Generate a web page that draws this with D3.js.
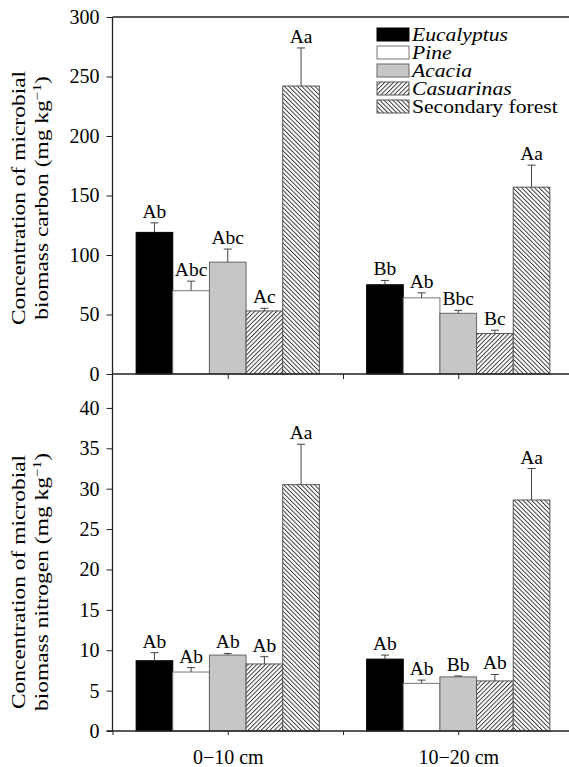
<!DOCTYPE html>
<html>
<head>
<meta charset="utf-8">
<script src="https://cdn.jsdelivr.net/npm/d3@7"></script>
<style>
    body { margin: 0; background: #fff; }
    text { font-family: "Liberation Serif", "Times New Roman", serif; fill: #000; }
</style>
</head>
<body>
<div id="chart"></div>
<script>
var groups = ["0\u221210 cm", "10\u221220 cm"];
var species = ["Eucalyptus", "Pine", "Acacia", "Casuarinas", "Secondary forest"];
var italicNames = [true, true, true, true, false];

var carbonMean = [[119, 70, 94, 53, 242], [75, 64, 51, 34, 157]];
var carbonErr = [[8, 8, 11, 2.2, 32], [3.6, 4.2, 2.5, 2.8, 18.5]];
var carbonLetters = [["Ab", "Abc", "Abc", "Ac", "Aa"], ["Bb", "Ab", "Bbc", "Bc", "Aa"]];

var nitrogenMean = [[8.7, 7.3, 9.4, 8.3, 30.5], [8.9, 5.9, 6.7, 6.2, 28.6]];
var nitrogenErr = [[1.0, 0.55, 0.2, 0.9, 5.0], [0.5, 0.4, 0.12, 0.8, 3.9]];
var nitrogenLetters = [["Ab", "Ab", "Ab", "Ab", "Aa"], ["Ab", "Ab", "Bb", "Ab", "Aa"]];

var carbonTicks = [0, 50, 100, 150, 200, 250, 300];
var nitrogenTicks = [0, 5, 10, 15, 20, 25, 30, 35, 40];

(function draw() {
    "use strict";

    var width = 569, height = 767;
    var svg = d3.select("#chart").append("svg")
        .attr("width", width)
        .attr("height", height);

    var defs = svg.append("defs");
    var hatch = function hatch(id, angle) {
        var p = defs.append("pattern")
            .attr("id", id)
            .attr("patternUnits", "userSpaceOnUse")
            .attr("width", 3.1)
            .attr("height", 3.1)
            .attr("patternTransform", "rotate(" + angle + ")");
        p.append("rect").attr("width", 3.1).attr("height", 3.1).attr("fill", "#fff");
        p.append("line")
            .attr("x1", 0.5).attr("y1", 0).attr("x2", 0.5).attr("y2", 3.1)
            .attr("stroke", "#111").attr("stroke-width", 0.8);
    };
    hatch("hatchUp", 45);
    hatch("hatchDown", -45);

    var fills = ["#000", "#fff", "#c6c6c6", "url(#hatchUp)", "url(#hatchDown)"];
    var strokes = ["#000", "#777", "#666", "#555", "#555"];

    // x in "slot" units: ticks at 0..3, groups at 1 and 3
    var x = d3.scaleLinear().domain([0, 4]).range([112.5, 573.5]);
    var barW = 0.318;
    var barX = function(g, i) { return x(1 + 2 * g + (i - 2.5) * barW); };
    var bw = x(barW) - x(0);

    var yC = d3.scaleLinear().domain([0, 300]).range([374, 17]);
    var yN = d3.scaleLinear().domain([0, 44.2]).range([731, 374]);

    var panel = function panel(y, means, errs, letters, ticks) {
        var g = svg.append("g");
        for (var gi = 0; gi < means.length; gi++) {
            for (var i = 0; i < species.length; i++) {
                var x0 = barX(gi, i);
                var v = means[gi][i];
                var top = y(v + errs[gi][i]);
                var cx = x0 + bw / 2;
                g.append("rect")
                    .attr("x", x0)
                    .attr("y", y(v))
                    .attr("width", bw)
                    .attr("height", y(0) - y(v))
                    .attr("fill", fills[i])
                    .attr("stroke", strokes[i])
                    .attr("stroke-width", 1);
                g.append("line")
                    .attr("x1", cx).attr("x2", cx)
                    .attr("y1", y(v)).attr("y2", top)
                    .attr("stroke", "#444");
                g.append("line")
                    .attr("x1", cx - 4).attr("x2", cx + 4)
                    .attr("y1", top).attr("y2", top)
                    .attr("stroke", "#444");
                g.append("text")
                    .attr("x", cx)
                    .attr("y", top - 5)
                    .attr("text-anchor", "middle")
                    .style("font-size", "19.5px")
                    .text(letters[gi][i]);
            }
        }
        var axis = svg.append("g")
            .attr("transform", "translate(" + x(0) + ",0)")
            .call(d3.axisLeft(y).tickValues(ticks).tickSize(6).tickPadding(7).tickFormat(d3.format("d")));
        axis.select(".domain").remove();
        axis.selectAll("line").attr("stroke", "#222");
        axis.selectAll("text")
            .style("font-size", "20px")
            .style("font-family", "Liberation Serif, serif");
    };

    panel(yC, carbonMean, carbonErr, carbonLetters, carbonTicks);
    panel(yN, nitrogenMean, nitrogenErr, nitrogenLetters, nitrogenTicks);

    // frame lines
    svg.append("line")
        .attr("x1", x(0)).attr("x2", width)
        .attr("y1", yC(300)).attr("y2", yC(300))
        .attr("stroke", "#222").attr("stroke-width", 1.3);
    svg.append("line")
        .attr("x1", x(0)).attr("x2", x(0))
        .attr("y1", yC(300)).attr("y2", yN(0))
        .attr("stroke", "#222").attr("stroke-width", 1.3);

    var midAxis = svg.append("g")
        .attr("transform", "translate(0," + yC(0) + ")")
        .call(d3.axisBottom(x).tickValues([1, 2, 3]).tickSize(5).tickFormat(""));
    midAxis.select(".domain").remove();
    midAxis.selectAll("line").attr("stroke", "#222");
    svg.append("line")
        .attr("x1", x(0)).attr("x2", width)
        .attr("y1", yC(0)).attr("y2", yC(0))
        .attr("stroke", "#222").attr("stroke-width", 1.3);

    var bottomAxis = svg.append("g")
        .attr("transform", "translate(0," + yN(0) + ")")
        .call(d3.axisBottom(x).tickValues([0, 1, 2, 3]).tickSize(4).tickPadding(15)
            .tickFormat(function(d) { return d === 1 ? groups[0] : (d === 3 ? groups[1] : ""); }));
    bottomAxis.select(".domain").remove();
    bottomAxis.selectAll("line").attr("stroke", "#222");
    bottomAxis.selectAll("text")
        .style("font-size", "20px")
        .style("font-family", "Liberation Serif, serif");
    svg.append("line")
        .attr("x1", x(0) - 6).attr("x2", width)
        .attr("y1", yN(0)).attr("y2", yN(0))
        .attr("stroke", "#222").attr("stroke-width", 1.3);

    // y titles (stretched along the text direction, as in the original figure)
    var yTitle = function yTitle(cy, line1, line2) {
        var t = svg.append("g")
            .attr("transform", "translate(0," + cy + ") rotate(-90) scale(1.27,1)");
        t.append("text")
            .attr("x", 0).attr("y", 25)
            .attr("text-anchor", "middle")
            .style("font-size", "18.5px")
            .text(line1);
        var l2 = t.append("text")
            .attr("x", 0).attr("y", 48)
            .attr("text-anchor", "middle")
            .style("font-size", "18.5px");
        l2.append("tspan").text(line2 + " (mg kg");
        l2.append("tspan").attr("dy", -7).style("font-size", "12px").text("\u22121");
        l2.append("tspan").attr("dy", 7).text(")");
    };
    yTitle(198, "Concentration of microbial", "biomass carbon");
    yTitle(582, "Concentration of microbial", "biomass nitrogen");

    // legend
    var legend = svg.append("g").attr("transform", "translate(377,28)");
    species.forEach(function(s, i) {
        legend.append("rect")
            .attr("x", 0).attr("y", i * 18)
            .attr("width", 32).attr("height", 13)
            .attr("fill", fills[i])
            .attr("stroke", strokes[i]);
        legend.append("text")
            .attr("transform", "translate(35," + (i * 18 + 13) + ") scale(1.2,1)")
            .style("font-size", "18px")
            .style("font-style", italicNames[i] ? "italic" : "normal")
            .text(s);
    });
})();
</script>
</body>
</html>
